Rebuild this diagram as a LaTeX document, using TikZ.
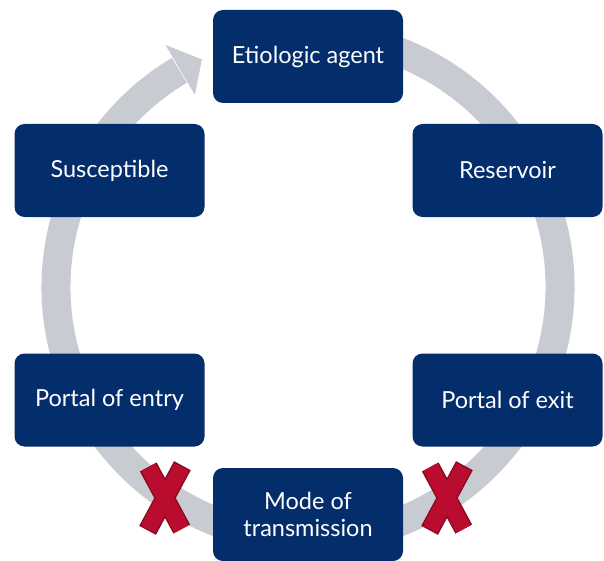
\documentclass[tikz,border=0pt]{standalone}
\usepackage{fontspec}
\setmainfont{Lato}
\usetikzlibrary{positioning}
\definecolor{navy}{RGB}{4,45,107}
\definecolor{ringgray}{RGB}{201,203,210}
\definecolor{crossred}{RGB}{186,12,47}
\definecolor{crossedge}{RGB}{138,10,34}

\begin{document}
\begin{tikzpicture}[x=1pt,y=1pt,
  stage/.style={draw=none,fill=navy,rounded corners=10pt,text=white,
    minimum width=190pt,minimum height=93pt,align=center,
    font=\fontsize{23.5}{27}\selectfont},
  ring/.style={draw=ringgray,line width=29pt}]
\useasboundingbox (0,0) rectangle (604,-561);
\coordinate (ctr) at (308,-287);
% ring with its arrow head
\draw[ring] ([shift={(80:252)}]ctr) arc[start angle=80,end angle=-239.3,radius=252];
\fill[ringgray] ([shift={(120.5:281)}]ctr) -- ([shift={(115:251)}]ctr)
  -- ([shift={(120.5:223)}]ctr) -- cycle;
% stages
\node[stage] (agent) at (308,-56.5) {Etiologic agent};
\node[stage] (reservoir) at (507.5,-170.5) {Reservoir};
\node[stage] (exit) at (507.5,-400) {Portal of exit};
\node[stage] (mode) at (308,-514.5) {Mode of\\transmission};
\node[stage] (entry) at (109.5,-400) {Portal of entry};
\node[stage] (susceptible) at (109.5,-170.5) {Susceptible};
% broken links
\foreach \cx in {165,447}{
  \begin{scope}[shift={(\cx,-498)}]
    \draw[crossedge,line width=19pt,shorten <=-1.5pt,shorten >=-1.5pt]
      (-16.7,31) -- (16.7,-31) (16.7,31) -- (-16.7,-31);
    \draw[crossred,line width=16pt]
      (-16.7,31) -- (16.7,-31) (16.7,31) -- (-16.7,-31);
  \end{scope}
}
\end{tikzpicture}
\end{document}
